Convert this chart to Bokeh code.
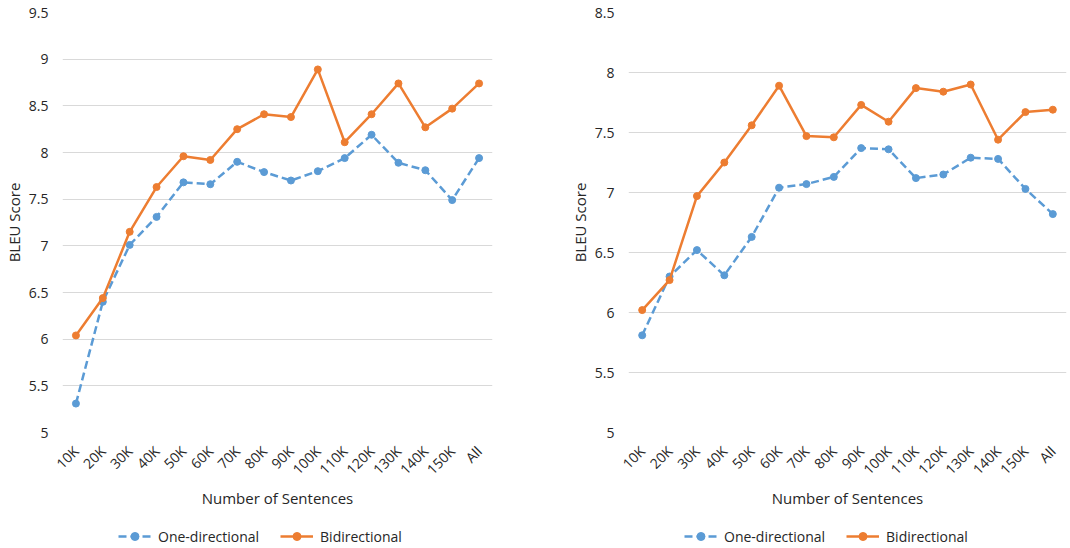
import math
from bokeh.plotting import figure
from bokeh.layouts import row, column
from bokeh.models import FixedTicker, CustomJSTickFormatter, Legend, LegendItem, Range1d
from bokeh.embed import file_html
from bokeh.resources import INLINE

sizes = ["10K", "20K", "30K", "40K", "50K", "60K", "70K", "80K", "90K", "100K",
         "110K", "120K", "130K", "140K", "150K", "All"]

left_one = [5.31, 6.40, 7.01, 7.31, 7.68, 7.66, 7.90, 7.79, 7.70, 7.80,
            7.94, 8.19, 7.89, 7.81, 7.49, 7.94]
left_bi = [6.04, 6.44, 7.15, 7.63, 7.96, 7.92, 8.25, 8.41, 8.38, 8.89,
           8.11, 8.41, 8.74, 8.27, 8.47, 8.74]

right_one = [5.81, 6.30, 6.52, 6.31, 6.63, 7.04, 7.07, 7.13, 7.37, 7.36,
             7.12, 7.15, 7.29, 7.28, 7.03, 6.82]
right_bi = [6.02, 6.27, 6.97, 7.25, 7.56, 7.89, 7.47, 7.46, 7.73, 7.59,
            7.87, 7.84, 7.90, 7.44, 7.67, 7.69]

left_ticks = [5, 5.5, 6, 6.5, 7, 7.5, 8, 8.5, 9, 9.5]
right_ticks = [5, 5.5, 6, 6.5, 7, 7.5, 8, 8.5]
series_names = ["One-directional", "Bidirectional"]

BLUE = "#5B9BD5"
ORANGE = "#ED7D31"
TXT = "#262626"
FONT = "Open Sans"
DASH = "8 4"


def add_series(fig, one, bi):
    r1 = [fig.line(sizes, one, line_color=BLUE, line_width=2.5, line_dash=DASH),
          fig.scatter(sizes, one, size=7, fill_color=BLUE, line_color=BLUE)]
    r2 = [fig.line(sizes, bi, line_color=ORANGE, line_width=2.5),
          fig.scatter(sizes, bi, size=7, fill_color=ORANGE, line_color=ORANGE)]
    return r1, r2


def make(one, bi, ticks, width, bl, br, leg_x):
    p = figure(x_range=sizes, y_range=Range1d(ticks[0], ticks[-1]),
               width=width, height=510, output_backend="svg",
               toolbar_location=None, min_border_left=bl, min_border_right=br,
               min_border_top=12, min_border_bottom=75)
    p.outline_line_color = None
    add_series(p, one, bi)

    p.xgrid.grid_line_color = None
    p.ygrid.grid_line_color = "#D9D9D9"
    p.ygrid.grid_line_width = 1

    p.yaxis.ticker = FixedTicker(ticks=ticks)
    p.yaxis.formatter = CustomJSTickFormatter(code="return tick.toString();")
    p.yaxis.major_label_standoff = 14
    p.yaxis.axis_label = "BLEU Score"
    p.yaxis.axis_label_standoff = 2

    p.xaxis.major_label_orientation = math.pi / 4
    p.xaxis.major_label_standoff = 16
    p.xaxis.axis_label = "Number of Sentences"
    p.xaxis.axis_label_standoff = 0
    p.x_range.range_padding = 0

    for ax in (p.xaxis[0], p.yaxis[0]):
        ax.axis_line_color = None
        ax.major_tick_line_color = None
        ax.minor_tick_line_color = None
        ax.major_tick_out = 0
        ax.major_tick_in = 0
        ax.minor_tick_out = 0
        ax.minor_tick_in = 0
        ax.major_label_text_font = FONT
        ax.major_label_text_font_size = "14px"
        ax.major_label_text_color = TXT
        ax.axis_label_text_font = FONT
        ax.axis_label_text_font_size = "15px"
        ax.axis_label_text_font_style = "normal"
        ax.axis_label_text_color = TXT

    # legend strip below the chart (series drawn out of view, only legend shows)
    lf = figure(x_range=sizes, y_range=Range1d(-2, -1), width=width, height=38,
                output_backend="svg", toolbar_location=None,
                x_axis_type=None, y_axis_type=None, min_border=0)
    lf.outline_line_color = None
    lf.xgrid.visible = False
    lf.ygrid.visible = False
    r1, r2 = add_series(lf, one, bi)
    legend = Legend(items=[LegendItem(label=series_names[0], renderers=r1),
                           LegendItem(label=series_names[1], renderers=r2)],
                    orientation="horizontal", location=(leg_x, 2),
                    label_text_font=FONT, label_text_font_size="14px",
                    label_text_color=TXT, glyph_width=33, spacing=21,
                    border_line_color=None, background_fill_alpha=0,
                    margin=0, padding=0, label_standoff=7)
    lf.add_layout(legend, "center")
    return column(p, lf)


c1 = make(left_one, left_bi, left_ticks, 536, 62, 44, 56)
c2 = make(right_one, right_bi, right_ticks, 534, 92, 4, 56)
lay = row(c1, c2)
open("out.html", "w").write(file_html(lay, INLINE))
